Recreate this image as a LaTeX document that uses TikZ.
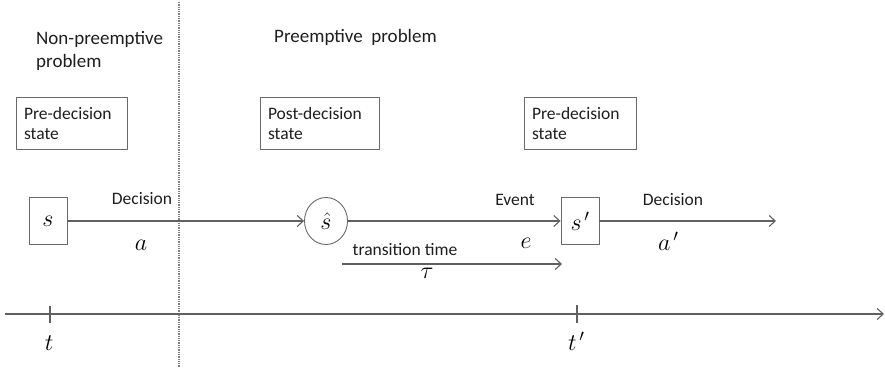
\RequirePackage{fix-cm}
\documentclass[tikz,border=0pt]{standalone}
\usepackage{fontspec}
\setsansfont{Carlito}
\usetikzlibrary{arrows.meta,shapes.geometric}
\definecolor{linegray}{HTML}{606060}
\definecolor{boxgray}{HTML}{6A6A6A}
\definecolor{txt}{HTML}{1E1E1E}
\begin{document}
\begin{tikzpicture}[x=1pt,y=-1pt,
  lbl/.style={font=\sffamily\fontsize{17.5}{20}\selectfont, text=txt, inner sep=0pt},
  ttl/.style={font=\sffamily\fontsize{19}{23}\selectfont, text=txt, inner sep=0pt, align=left},
  mth/.style={font=\fontsize{24}{28}\selectfont, inner sep=0pt},
  statebox/.style={draw=boxgray, line width=0.9pt, rectangle, inner ysep=0pt, inner xsep=8pt,
    minimum height=52pt, align=left, font=\sffamily\fontsize{17.5}{20}\selectfont, text=txt},
  nodebox/.style={draw=boxgray, line width=0.9pt, rectangle, inner sep=0pt,
    minimum width=38pt, minimum height=47pt, font=\fontsize{24}{28}\selectfont},
  nodecirc/.style={draw=boxgray, line width=0.9pt, ellipse, inner sep=0pt,
    minimum width=43pt, minimum height=47pt, font=\fontsize{24}{28}\selectfont},
  conn/.style={draw=linegray, line width=1.1pt, -{Straight Barb[length=6pt,width=11pt]}},
  tick/.style={draw=linegray, line width=1.1pt},
  sep/.style={draw=black!50, line width=1.3pt, densely dotted}
]
\useasboundingbox (0,0) rectangle (885,369);

% separator
\coordinate (d1) at (179,2);
\coordinate (d2) at (179,367);
\draw[sep] (d1) -- (d2);

% titles
\node[ttl, anchor=north west] (t1) at (36,31) {Non-preemptive\\problem};
\node[ttl, anchor=base west] (t2) at (274,43) {Preemptive\ \ problem};

% state boxes
\node[statebox, text width=95pt] (b1) at (71.5,123) {Pre-decision\\state};
\node[statebox, text width=103pt] (b2) at (319.5,123) {Post-decision\\state};
\node[statebox, text width=96pt] (b3) at (580,123) {Pre-decision\\state};

% states
\node[nodebox] (s) at (48,221) {$s$};
\node[nodecirc] (sh) at (326,221) {$\hat{s}$};
\node[nodebox] (sp) at (580,221) {$s^{\,\prime}$};
\coordinate (aend) at (776,221);

\draw[conn] (s) -- (sh);
\draw[conn] (sh) -- (sp);
\draw[conn] (sp) -- (aend);

% transition time
\coordinate (tr1) at (342,264);
\coordinate (tr2) at (562,264);
\draw[conn] (tr1) -- (tr2);

% labels
\node[lbl, anchor=base] (l1) at (142,204) {Decision};
\node[mth, anchor=base] (la) at (141,250) {$a$};
\node[lbl, anchor=base] (l2) at (515,205) {Event};
\node[mth, anchor=base] (le) at (526,248) {$e$};
\node[lbl, anchor=base] (l3) at (673,205) {Decision};
\node[mth, anchor=base west] (lap) at (658,250) {$a^{\,\prime}$};
\node[lbl, anchor=base] (l4) at (405,255) {transition time};
\node[mth, anchor=base] (ltau) at (427,278) {$\tau$};

% time axis
\coordinate (ax1) at (5,314);
\coordinate (ax2) at (884,314);
\draw[conn] (ax1) -- (ax2);
\coordinate (k1a) at (50,306);
\coordinate (k1b) at (50,323);
\draw[tick] (k1a) -- (k1b);
\coordinate (k2a) at (577,305);
\coordinate (k2b) at (577,323);
\draw[tick] (k2a) -- (k2b);
\node[mth, anchor=base] (lt) at (49,350) {$t$};
\node[mth, anchor=base west] (ltp) at (568,350) {$t^{\,\prime}$};
\end{tikzpicture}
\end{document}
